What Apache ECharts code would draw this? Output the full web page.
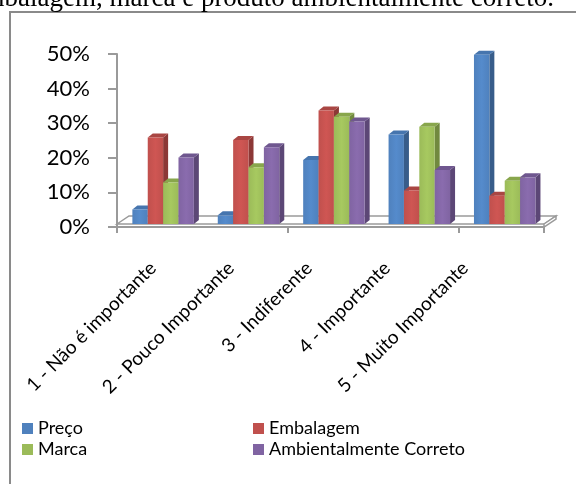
<!DOCTYPE html>
<html>
<head>
<meta charset="utf-8">
<script src="https://cdn.jsdelivr.net/npm/echarts@6/dist/echarts.min.js"></script>
<style>
  html, body { margin: 0; padding: 0; background: #fff; }
  #chart { width: 576px; height: 484px; }
</style>
</head>
<body>
<div id="chart"></div>
<script>
// dados
var categorias = ['1 - Não é importante', '2 - Pouco Importante', '3 - Indiferente', '4 - Importante', '5 - Muito Importante'];
var preco = [0.042, 0.025, 0.185, 0.259, 0.489];
var embalagem = [0.250, 0.243, 0.328, 0.097, 0.082];
var marca = [0.120, 0.164, 0.310, 0.281, 0.125];
var ambiental = [0.192, 0.222, 0.296, 0.156, 0.135];
var yTicks = [0, 0.1, 0.2, 0.3, 0.4, 0.5];

var font = 'Lato';
var cores = [
  { nome: 'Preço', dados: preco, frente: '#4F81BD', lado: '#385D8A', topo: '#4675AE' },
  { nome: 'Embalagem', dados: embalagem, frente: '#C0504D', lado: '#8C3836', topo: '#A94643' },
  { nome: 'Marca', dados: marca, frente: '#9BBB59', lado: '#71893F', topo: '#88A64C' },
  { nome: 'Ambientalmente Correto', dados: ambiental, frente: '#8064A2', lado: '#5C4776', topo: '#6F578F' }
];

function barra3d(idx, c) {
  return function (params, api) {
    var ci = api.value(0), v = api.value(1);
    var p = api.coord([ci, v]);
    var b = api.coord([ci, 0]);
    var band = api.size([1, 0])[0];
    var w = band * 0.18;
    var x0 = p[0] - band * 0.32 + idx * w;
    var yt = p[1] - 3, yb = b[1] - 3, dx = 5, dy = -4;
    return {
      type: 'group',
      children: [
        { type: 'polygon', shape: { points: [[x0 + w, yb], [x0 + w + dx, yb + dy], [x0 + w + dx, yt + dy], [x0 + w, yt]] }, style: { fill: c.lado } },
        { type: 'polygon', shape: { points: [[x0, yt], [x0 + w, yt], [x0 + w + dx, yt + dy], [x0 + dx, yt + dy]] }, style: { fill: c.topo } },
        { type: 'rect', shape: { x: x0, y: yt, width: w, height: yb - yt },
          style: { fill: new echarts.graphic.LinearGradient(0, 0, 1, 0, [
            { offset: 0, color: c.frente }, { offset: 0.5, color: echarts.color.lift(c.frente, -0.08) }, { offset: 1, color: c.frente }]) } }
      ]
    };
  };
}

var chart = echarts.init(document.getElementById('chart'));

var series = cores.map(function (c, i) {
  return {
    name: c.nome,
    type: 'custom',
    xAxisIndex: 0,
    yAxisIndex: 0,
    itemStyle: { color: c.frente },
    encode: { x: 0, y: 1 },
    data: c.dados.map(function (v, k) { return [k, v]; }),
    renderItem: barra3d(i, c)
  };
});

var cinza = '#9a9a9a';

var option = {
  animation: false,
  grid: [
    { left: 117, right: 32, top: 54, bottom: 257 },
    { left: 114, right: 72, top: 54, bottom: 257 }
  ],
  xAxis: [
    {
      type: 'category', gridIndex: 0, data: categorias, boundaryGap: true,
      axisLine: { lineStyle: { color: cinza, width: 2 } },
      axisTick: { show: true, length: 6, lineStyle: { color: cinza, width: 2 } },
      axisLabel: { show: false }
    },
    {
      type: 'category', gridIndex: 1, data: categorias, boundaryGap: true,
      axisLine: { show: false }, axisTick: { show: false },
      axisLabel: { rotate: 45, margin: 38, fontSize: 19, fontFamily: font, color: '#000', interval: 0 }
    }
  ],
  yAxis: [
    {
      type: 'value', gridIndex: 0, min: yTicks[0], max: yTicks[yTicks.length - 1], interval: 0.1,
      axisLine: { show: true, lineStyle: { color: cinza, width: 2 } },
      axisTick: { show: true, length: 9, lineStyle: { color: cinza, width: 2 } },
      splitLine: { show: false },
      axisLabel: { margin: 27, fontSize: 22, fontFamily: font, color: '#000',
        formatter: function (v) { return Math.round(v * 100) + '%'; } }
    },
    { type: 'value', gridIndex: 1, show: false, min: 0, max: 0.5 }
  ],
  legend: [
    {
      left: 22, top: 418, orient: 'vertical', padding: 0, itemGap: 0,
      itemWidth: 11, itemHeight: 11, icon: 'rect',
      textStyle: { fontSize: 18, fontFamily: font, color: '#000', lineHeight: 21 },
      data: ['Preço', 'Marca']
    },
    {
      left: 253, top: 418, orient: 'vertical', padding: 0, itemGap: 0,
      itemWidth: 11, itemHeight: 11, icon: 'rect',
      textStyle: { fontSize: 18, fontFamily: font, color: '#000', lineHeight: 21 },
      data: ['Embalagem', 'Ambientalmente Correto']
    }
  ],
  graphic: [
    { type: 'rect', z: 0, shape: { x: 10, y: 12, width: 640, height: 560 },
      style: { fill: 'none', stroke: '#8a8a8a', lineWidth: 2 } },
    { type: 'text', z: 0, x: 554, y: -1,
      style: { text: 'Embalagem, marca e produto ambientalmente correto.', font: '27px "Liberation Serif"',
        fill: '#000', textAlign: 'right', textVerticalAlign: 'middle' } },
    { type: 'polygon', z: 1, shape: { points: [[117, 224], [129, 216], [556, 216], [544, 224]] },
      style: { fill: '#fff', stroke: cinza, lineWidth: 1.5 } },
    { type: 'polygon', z: 1, shape: { points: [[544, 224], [556, 216], [556, 219], [544, 227]] },
      style: { fill: '#fff', stroke: cinza, lineWidth: 1.5 } }
  ],
  series: series
};

chart.setOption(option);
</script>
</body>
</html>
